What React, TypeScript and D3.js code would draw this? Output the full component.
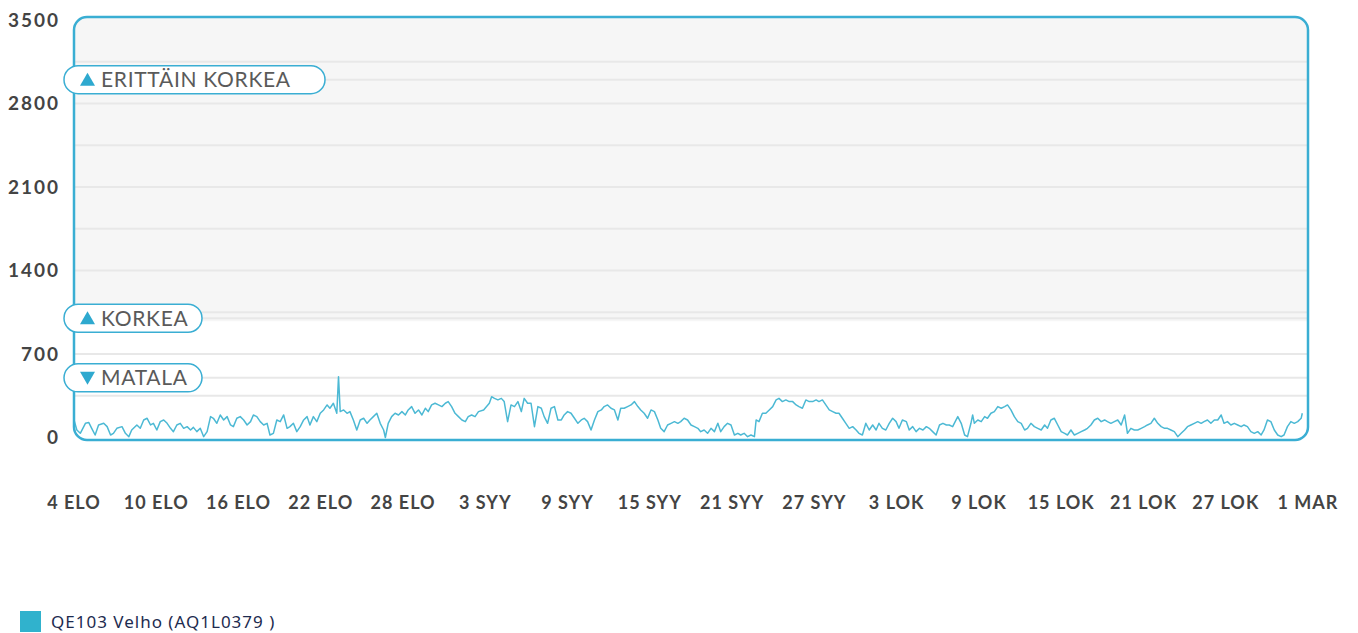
import { useEffect, useRef } from "react";
import * as d3 from "d3";

// x axis: day offsets from 4 Aug and their labels
const tickDays = [0, 6, 12, 18, 24, 30, 36, 42, 48, 54, 60, 66, 72, 78, 84, 90];
const tickLabels = [
  "4 ELO", "10 ELO", "16 ELO", "22 ELO", "28 ELO",
  "3 SYY", "9 SYY", "15 SYY", "21 SYY", "27 SYY",
  "3 LOK", "9 LOK", "15 LOK", "21 LOK", "27 LOK", "1 MAR",
];

const yTicks = [0, 700, 1400, 2100, 2800, 3500];
const gridValues = [350, 700, 1050, 1400, 1750, 2100, 2450, 2800, 3150];

const thresholdValues = [3000, 1000, 500];
const thresholdLabels = ["ERITTÄIN KORKEA", "KORKEA", "MATALA"];
const thresholdDirs = ["up", "up", "down"];

const seriesName = "QE103 Velho (AQ1L0379 )";

// [hours since 4 Aug 00:00, reading]
const samples: [number, number][] = [
  [0,147],[5,63],[11,35],[20,119],[26,125],[31,77],[37,21],[43,105],[52,119],[58,91],[64,21],[69,35],[75,77],[84,91],[90,35],[96,7],[101,63],[110,105],[116,77],[122,147],[128,161],[134,105],[139,119],[145,63],[151,133],[157,147],[163,119],[169,77],[174,49],[180,105],[186,119],[192,77],[198,91],[204,63],[209,85],[215,49],[221,77],[227,7],[233,49],[239,175],[244,161],[250,119],[256,189],[262,147],[268,175],[274,105],[279,91],[285,161],[291,175],[297,147],[303,105],[309,133],[314,189],[320,175],[326,133],[332,105],[338,119],[343,21],[349,35],[355,147],[361,133],[367,189],[373,77],[378,91],[384,119],[390,49],[396,91],[402,147],[408,175],[413,105],[419,175],[425,133],[431,203],[437,231],[443,273],[448,245],[454,287],[460,203],[463,510],[466,217],[472,231],[478,203],[483,217],[489,147],[495,63],[501,147],[507,161],[513,119],[518,147],[524,175],[530,203],[536,119],[542,63],[545,0],[550,119],[556,175],[562,203],[568,189],[574,217],[580,189],[585,231],[591,259],[597,203],[603,231],[609,189],[615,245],[620,217],[626,273],[632,287],[638,273],[644,259],[650,287],[655,301],[661,259],[667,203],[673,175],[679,147],[685,133],[690,175],[696,189],[702,175],[708,217],[717,231],
  [727,287],[731,342],[736,328],[742,315],[748,328],[753,301],[759,133],[765,273],[771,259],[777,301],[783,217],[788,328],[794,287],[800,287],[806,91],[812,259],[818,245],[823,175],[829,119],[835,245],[841,259],[847,147],[853,147],[858,189],[864,217],[870,203],[876,161],[882,119],[888,147],[893,161],[899,133],[905,63],[911,147],[917,217],[923,231],[928,259],[934,273],[940,245],[946,231],[952,147],[957,245],[963,245],[969,259],[975,273],[981,301],[987,259],[992,231],[998,203],[1004,161],[1010,231],[1016,217],[1022,147],[1027,77],[1033,49],[1039,105],[1045,119],[1051,133],[1057,119],[1062,133],[1068,161],[1074,147],[1080,105],[1086,91],[1092,77],[1097,49],[1103,63],[1109,35],[1115,77],[1121,49],[1127,119],[1132,49],[1138,91],[1144,119],[1150,105],[1156,21],[1162,35],[1167,21],[1173,35],[1179,7],[1185,21],[1191,7],[1194,147],[1199,133],[1205,203],[1211,203],[1217,231],[1223,259],[1229,315],[1234,328],[1240,301],[1246,315],[1252,301],[1258,301],[1264,273],[1269,259],[1275,245],[1281,315],[1287,301],[1293,301],[1299,315],[1304,301],[1310,315],[1316,273],[1322,231],[1328,217],[1334,203],[1339,203],[1345,161],[1351,119],[1357,77],[1363,91],[1369,63],[1374,35],[1380,21],[1386,119],[1392,63],[1398,105],[1404,63],[1409,119],[1415,77],[1421,63],[1427,119],[1433,161],[1439,133],[1444,77],[1450,147],
  [1457,133],[1462,63],[1468,91],[1474,49],[1480,77],[1486,63],[1492,91],[1497,77],[1503,49],[1509,21],[1515,105],[1521,119],[1527,105],[1532,105],[1538,91],[1544,147],[1547,175],[1553,119],[1559,21],[1564,7],[1570,119],[1573,189],[1576,119],[1582,147],[1588,133],[1594,175],[1599,161],[1605,203],[1611,217],[1617,259],[1623,245],[1629,259],[1634,273],[1640,231],[1646,175],[1652,133],[1658,119],[1664,63],[1669,77],[1675,119],[1681,91],[1687,77],[1693,63],[1699,105],[1704,77],[1710,147],[1716,161],[1722,105],[1728,49],[1734,35],[1739,21],[1745,63],[1751,21],[1757,35],[1763,49],[1769,63],[1774,77],[1780,105],[1786,147],[1792,161],[1798,133],[1804,147],[1809,133],[1815,119],[1821,133],[1827,147],[1833,105],[1839,189],[1844,35],[1850,77],[1856,63],[1862,63],[1868,77],[1874,91],[1879,105],[1885,119],[1891,161],[1897,119],[1903,91],[1909,77],[1914,77],[1920,63],[1926,49],[1932,7],[1938,35],[1944,63],[1949,91],[1955,105],[1961,119],[1967,133],[1973,119],[1978,133],[1984,147],[1990,119],[1996,147],[2002,147],[2008,189],[2013,119],[2019,133],[2025,105],[2031,119],[2037,105],[2043,91],[2048,105],[2054,91],[2060,49],[2066,35],[2072,49],[2078,21],[2083,63],[2089,147],[2095,133],[2101,63],[2107,21],[2113,7],[2118,21],[2124,91],[2130,133],[2136,119],[2142,133],[2148,161],[2150,203],
];

const Chart = () => {
  const chartRef = useRef<HTMLDivElement>(null);

  useEffect(() => {
    d3.select(chartRef.current).select("svg").remove();

    const width = 1358;
    const height = 633;
    const plot = { left: 74, right: 1308, top: 17, bottom: 440 };
    const blue = "#3aaed3";
    const lineColor = "#4cb9d4";

    const svg = d3
      .select(chartRef.current)
      .append("svg")
      .attr("width", width)
      .attr("height", height)
      .style("display", "block");

    const xScale = d3.scaleLinear().domain([0, 90 * 24]).range([plot.left, plot.right]);
    const yScale = d3.scaleLinear().domain([0, 3500]).range([437.5, 20]);

    // clip for the rounded plot box
    svg
      .append("defs")
      .append("clipPath")
      .attr("id", "plot-clip")
      .append("rect")
      .attr("x", plot.left)
      .attr("y", plot.top)
      .attr("width", plot.right - plot.left)
      .attr("height", plot.bottom - plot.top)
      .attr("rx", 13);

    const inner = svg.append("g").attr("clip-path", "url(#plot-clip)");

    inner
      .append("rect")
      .attr("x", plot.left)
      .attr("y", plot.top)
      .attr("width", plot.right - plot.left)
      .attr("height", plot.bottom - plot.top)
      .attr("fill", "#fff");

    // grey band above KORKEA
    inner
      .append("rect")
      .attr("x", plot.left)
      .attr("y", plot.top)
      .attr("width", plot.right - plot.left)
      .attr("height", yScale(1000) + 3 - plot.top)
      .attr("fill", "#f6f6f6");

    // grid lines
    inner
      .selectAll(".grid")
      .data(gridValues.concat(thresholdValues))
      .join("line")
      .attr("x1", plot.left)
      .attr("x2", plot.right)
      .attr("y1", (d) => yScale(d))
      .attr("y2", (d) => yScale(d))
      .attr("stroke", "#e8e8e8")
      .attr("stroke-width", 2);

    // the series
    const line = d3
      .line<[number, number]>()
      .x((d) => xScale(d[0]))
      .y((d) => yScale(d[1]));

    inner
      .append("path")
      .datum(samples)
      .attr("fill", "none")
      .attr("stroke", lineColor)
      .attr("stroke-width", 1.5)
      .attr("stroke-linejoin", "round")
      .attr("d", line);

    // border
    svg
      .append("rect")
      .attr("x", plot.left)
      .attr("y", plot.top)
      .attr("width", plot.right - plot.left)
      .attr("height", plot.bottom - plot.top)
      .attr("rx", 13)
      .attr("fill", "none")
      .attr("stroke", blue)
      .attr("stroke-width", 2.5);

    // y labels
    svg
      .selectAll(".ylab")
      .data(yTicks)
      .join("text")
      .attr("x", 60)
      .attr("y", (d) => yScale(d))
      .attr("dy", "0.36em")
      .attr("text-anchor", "end")
      .attr("font-family", "Lato, sans-serif")
      .attr("font-weight", 700)
      .attr("font-size", 19)
      .attr("letter-spacing", 2)
      .attr("fill", "#444")
      .text((d) => d);

    // x labels
    svg
      .selectAll(".xlab")
      .data(tickDays)
      .join("text")
      .attr("x", (d) => xScale(d * 24))
      .attr("y", 509)
      .attr("text-anchor", "middle")
      .attr("font-family", "Lato, sans-serif")
      .attr("font-weight", 700)
      .attr("font-size", 18)
      .attr("letter-spacing", 1)
      .attr("fill", "#444")
      .text((_, i) => tickLabels[i]);

    // threshold pills
    const pillWidths = [261, 138, 138];
    thresholdValues.forEach((v, i) => {
      const cy = yScale(v);
      const g = svg.append("g");
      g.append("rect")
        .attr("x", 64)
        .attr("y", cy - 14)
        .attr("width", pillWidths[i])
        .attr("height", 28)
        .attr("rx", 14)
        .attr("fill", "#fff")
        .attr("stroke", blue)
        .attr("stroke-width", 1.5);
      const tri =
        thresholdDirs[i] === "up"
          ? `M80,${cy + 6} L87.5,${cy - 7} L95,${cy + 6} Z`
          : `M80,${cy - 6} L87.5,${cy + 7} L95,${cy - 6} Z`;
      g.append("path").attr("d", tri).attr("fill", "#2ea9cf");
      g.append("text")
        .attr("x", 101)
        .attr("y", cy)
        .attr("dy", "0.36em")
        .attr("font-family", "Lato, sans-serif")
        .attr("font-size", 21)
        .attr("letter-spacing", 0.7)
        .attr("fill", "#5a5a5a")
        .text(thresholdLabels[i]);
    });

    // legend
    svg
      .append("rect")
      .attr("x", 20)
      .attr("y", 611)
      .attr("width", 21)
      .attr("height", 21)
      .attr("fill", "#30b2cd");
    svg
      .append("text")
      .attr("x", 51)
      .attr("y", 628)
      .attr("font-family", "'Noto Sans', sans-serif")
      .attr("font-size", 17)
      .attr("letter-spacing", 1)
      .attr("fill", "#1d2b4f")
      .text(seriesName);

    return () => {
      d3.select(chartRef.current).select("svg").remove();
    };
  }, []);

  return (
    <div
      ref={chartRef}
      style={{ position: "absolute", left: 0, top: 0, width: 1358, height: 633 }}
    ></div>
  );
};

export default function App() {
  return <Chart />;
}
